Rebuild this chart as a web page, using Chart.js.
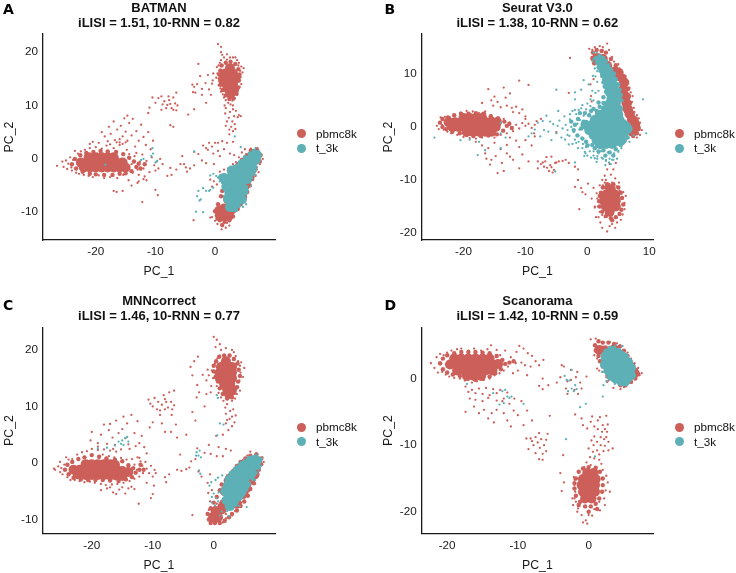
<!DOCTYPE html>
<html><head><meta charset="utf-8">
<style>
html,body{margin:0;padding:0;background:#fff;width:736px;height:573px;overflow:hidden}
#wrap{position:relative;width:736px;height:573px;font-family:"Liberation Sans",Arial,sans-serif;color:#111}
.p{position:absolute;width:368px;height:286px}
.letter{position:absolute;font:bold 14px "DejaVu Sans",sans-serif;color:#000;line-height:14px}
.lg{position:absolute;font-size:11.7px;line-height:14px;color:#111;white-space:nowrap}
.dot{position:absolute;width:9px;height:9px;border-radius:50%}
canvas{filter:blur(0.35px)}
</style>
<script src="https://cdn.jsdelivr.net/npm/chart.js@4/dist/chart.umd.min.js"></script>
</head><body><div id="wrap"></div>
<script>
const seriesNames=["pbmc8k","t_3k"];
const titleA=["BATMAN","iLISI = 1.51, 10-RNN = 0.82"],titleB=["Seurat V3.0","iLISI = 1.38, 10-RNN = 0.62"],titleC=["MNNcorrect","iLISI = 1.46, 10-RNN = 0.77"],titleD=["Scanorama","iLISI = 1.42, 10-RNN = 0.59"];
const xTicksA=[-20,-10,0],yTicksA=[-10,0,10,20];
const xTicksB=[-20,-10,0,10],yTicksB=[-20,-10,0,10];
const xTicksC=[-20,-10,0],yTicksC=[-10,0,10,20];
const xTicksD=[-20,-10,0],yTicksD=[-20,-10,0];

/* flat x,y pairs */
const pbmcA=[-26.5,-1.3,-25.6,-0.5,-25.4,-1.5,-25,-0.3,-24.8,-1.9,-24.6,-0.9,-24.3,0.3,-24.1,-1.6,-24,-2.2,-23.8,-0.2,-23.5,1.5,-23.3,-2.6,-23,1,-22.8,-2.8,-22.5,1.4,-22,-3,-21.8,1.7,-21.2,-3.2,-21,2,-20.5,-3.4,-20,2.2,-19.5,-3.1,-19,1.9,-18.6,-3.6,-18.2,2.5,-17.6,-3.4,-17,2,-16.4,-3.6,-16,2.6,-15.4,-3,-14.8,1.7,-14,-1,-13.5,0.5,-13,-2,-12.6,-0.5,-12.2,0.8,-12,-1.8,-11.5,-0.4,-11,-2.5,-10.6,0.3,-10.2,-1.2,-9.8,-0.5,-9.5,-1.8,-9.2,0,-8.8,-1,-13.8,-2.6,-13.2,1.1,-12.8,-3,-11.8,-3.3,-14.4,0.9,-19.5,3,-19,5,-18.5,4.2,-18,3.3,-17.8,6,-17.5,4.7,-17,7,-16.8,3.5,-16.4,5.5,-16,3.1,-15.8,6.2,-15.5,4.2,-15.2,7.6,-15,5.1,-14.7,8.1,-14.7,3.4,-14.4,6.7,-14,4.4,-13.8,7.5,-13.4,2.3,-13.2,5.2,-12.8,3.4,-12.4,6.4,-12,4.1,-11.6,2.6,-11.2,5,-10.8,1.8,-10.4,3.4,-16.5,3.1,-17.6,2.7,-16,3.7,-15.5,2.8,-15,3.1,-20.5,3.2,-21,2.8,-17,-6,-16.5,-6.2,-15.5,-6,-14,-5,-13,-4.5,-12.2,-8.1,-10,-5.8,-9.6,-6.8,-12,-3.8,-11.5,-4,-12.8,-4.2,-14.5,-4,-10,-2.2,-8,-3.2,-7.3,-3,-7.5,-1.7,-6.5,-2,-5.8,-1,-5.5,0.5,-4.9,-1.6,-5.2,-1,-4.7,-2.4,-4.2,-1.8,-3.5,-1.2,-10.5,11.5,-10,10.5,-9.5,11.4,-9,9.2,-8.8,10.2,-8.5,10.8,-8.2,9.5,-8,10.1,-7.7,11,-7.5,10.3,-7.3,9.5,-7,11.5,-7,9.2,-6.7,10.4,-6.5,9.1,-6.3,10,-6.5,12.4,-9,11.7,-7.8,11.7,-11,9.6,-11.2,8.6,-7,6,-7.5,6.3,-4.5,8.3,-3.5,9.3,-1.5,10.5,-2.5,15.5,-1.2,15.7,-1.6,14.2,-3,14,-3.5,13.5,-3.8,13.9,-2.2,13.1,-3.3,12.4,-3.7,12.5,-1,13,-0.7,12,-2.2,12,-2.8,17.8,0.5,21.5,1,21,1,20,1.2,19.5,2,19.6,1.5,19,2.5,19,3,19,3.4,19,1,18.5,2,18.6,3.7,18.5,4,18,0.8,18,0.3,17.2,0.6,17.5,1.2,17.6,3.9,17.5,4.4,17.3,4.8,17,0.7,16.5,4.2,16.5,4.6,16.2,-0.3,16,0.4,16,0.9,16.7,4,15.6,4.3,15.3,0.2,15.2,-0.4,14.7,0.7,14.5,0.9,15.3,4,14.6,4.4,14,-0.5,14.1,0.6,13.8,0.9,13.2,4.1,13.5,3.8,12.8,1,12.6,1.3,12.1,3.7,12,1.5,11.5,3.3,11.4,1.8,11,2.9,10.9,2.2,10.5,2.6,10.2,1.6,10,3,10,1.8,9.5,3,9.3,3.5,9,2.5,8.8,4,8.2,4.3,8,3.2,8,2.3,7.7,3.8,7.8,1.7,8.5,2,7,2.9,7,3.3,6.5,2.7,6,3.4,5.6,3,5.2,2.4,4.6,1.8,6.2,2.4,5.5,-2,2.5,-1.5,2,-1,3,-0.5,2.3,0,3,0.5,3,1.2,3.3,2,3,3,3.2,0.5,1.5,-0.3,1,-1.2,1.7,0.8,0.5,1.5,1.8,2.5,1,3.2,0.7,-2.8,0.9,-3.5,1.3,-2.2,-0.3,-1.5,-0.8,-0.2,-1,-0.8,-3.9,-0.2,-4.2,0.3,-4.8,-0.5,-5.2,0.8,-2.4,1.5,-2,2.2,-1.8,3,-1,3.5,-0.6,4,0.3,4.5,1.2,5,1.8,6,1.9,7,1.8,7.8,0.6,8,0,7.5,-1,7,-2,6.5,-2.8,6.2,-3.8,5.8,-4.6,5.5,-5.5,5,-6.6,4.6,-7.5,4,-8.8,3.5,-9.6,3,-10.5,2.5,-11,2,-12,1.2,-12.6,0.4,-12.2,0,-11.6,-0.5,-10.9,-0.8,-11,0.2,-10,0.8,-9.5,1.3,-8.8,1.7,-8,1.5,-10.4,1,-11.2,0.7,-10.8,1.6,-11.6,2.2,-10.6,1.8,-12.9,1.1,-13.2,2.4,-12.5,-3.6,-11.5,1.3,-7,1.8,-6,2.2,-5.2,2.6,-4.3,6.8,-3.2,7.3,-2.5,6,-5,5.2,-7];
const tA=[-18.4,-1.1,-10.5,2,-10.4,1,-10.7,0.5,-12,0,-12.4,-0.2,-10,-0.7,-9.7,-0.4,-3.5,1.4,3.3,4.2,4.3,2.2,6.8,2,-2.8,-6,-2.4,-7.6,-2.6,-7.8,-3,-7,-2,-5.5,-1.5,-6,-1,-6,-0.8,-5.8,-0.3,-5.4,-3.2,-9.9,-2,-10,-0.8,-3.1,-0.3,-2.8,0.5,-3.5,0.8,-4.2,1.2,-4.5,1.5,-3,0.2,-3.2,1.7,-6,1.5,-7,2,-8.2,2.4,-9.5,5.2,-8.5,4.7,-9,6,-5,6.8,-3,7,-1.5];
const pbmcEdgeA=[-24,-1,-23.5,0,-23.3,-1.8,-22.6,0.7,-22.2,-2.4,-21.6,1.1,-21,-2.8,-20.4,1.3,-20,-2.9,-19.2,1.5,-18.6,-3,-18,1.4,-17.2,-3,-16.6,1.3,-16,-2.8,-15.4,0.9,-15,-2.7,-14.4,0.2,-14,-2.3,-13.6,-0.5,-13.2,-1.5,-12.8,-0.9,-12.5,-1.8,-11.8,-1,0.9,16.5,1.1,17.5,1.8,18,2.6,18.2,3.4,17.8,3.9,16.8,4.1,15.8,4,14.7,3.9,13.4,3.6,12.2,3.1,11.3,2.4,11.2,1.8,11.9,1.3,12.9,0.9,13.9,0.8,15,1,14.5,0.7,15.8,0.5,-8.5,1,-7,1.2,-6,1.5,-5,2,-3.5,2.7,-2.5,3.2,-1.7,3.8,-1,4.5,-0.2,5.3,0.7,6,1.6,7,1.8,7.6,0.8,7.5,-0.5,6.8,-1.6,6.4,-2.6,6.2,-3.8,5.8,-5,5.4,-6.2,5,-7.2,4.3,-8.5,3.8,-9.4,3,-10.8,2.4,-11.5,1.6,-11.8,0.8,-11.5,0.3,-10.6,0,-9.8,1.2,-12.4,0.4,-11.2];
const tEdgeA=[3,-2,2.6,-3,2,-3.3,1.5,-3.6,2,-4.5,2.2,-5.5,2.2,-6.6,2.1,-8,5.4,-4,5.2,-5.3,5,-6,4.6,-7.5,4,-8.8,3.5,-9.6,6.6,-1,7.4,0.2,7.2,1.3,6.5,1.5,5.8,1,5,0.3,4.2,-0.8,3.4,-1.6,1,-3.2,0.8,-3.5,1.2,-4,6.2,-2.8,6,-3.6,2.6,-9.4];
const pbmcCoreA=[-22.5,-0.7,-21.5,-0.7,-20.5,-0.7,-19.5,-0.7,-18.5,-0.7,-17.5,-0.7,-16.5,-0.7,-15.5,-0.7,-21.2,0.3,-20,0.3,-19,0.3,-18,0.3,-17,0.3,-22,-1.6,-21,-1.6,-20,-1.6,-19,-1.6,-18,-1.6,-17,-1.6,-16,-1.6,-15,-1.6,2.5,17,1.7,16,3,16,1.4,15,2.4,15,3.4,15,1.9,14,3,14,2.3,13,3.2,13,2.6,12.2,6,-0.8,4.8,-1.8,3.6,-2.9,5.8,-3.3,2,-4.6,2.8,-5.7,5,-5,2.2,-7.6,4.4,-7.5,1.5,-9.3,2.8,-9.5,1.1,-10.7,2.2,-10.8,0.7,-9.7];
const tCoreA=[7,0.7,6.3,0.5,6.8,-0.2,5.6,-0.3,6.1,-1,4.8,-0.9,5.3,-1.7,4.3,-1.8,5,-2.7,3.6,-2.6,4.2,-3.3,2.8,-3.2,3.6,-4,4.8,-4,2.5,-4,3.2,-4.9,4.3,-5,3.8,-6,3,-6,3.3,-7,4,-7,2.8,-7.9,3.5,-8,2.5,-9,3,-9,1.8,-4.2,5.6,-2.8,5.4,-3.8,1.9,-5.2,2.4,-6.5,4.8,-6,4.5,-7.6,2.2,-7.5,6.2,-2,2.8,-2.2,4.5,-1,3.5,-2,1.5,-3.6];

const pbmcB=[-24.3,0.2,-24,-0.4,-23.7,1.8,-23.5,0.4,-23.2,-0.5,-23,1.9,-22.6,-0.9,-22.2,1.8,-22,-1.2,-21.5,2.3,-21,-1.5,-20.5,2.7,-20,-1.9,-19.5,3,-19,-2.1,-18.5,2.9,-18,-2.2,-17.5,2.6,-17,-2,-16.5,2.5,-16,-1.8,-15.5,2.2,-15,-2,-14.5,1.8,-14,-1.5,-13.5,1.5,-13,-1.2,-12.5,0.8,-12,-0.8,-11.5,0.4,-11,-0.3,-10.5,0.7,-10,0.2,-9.5,0.6,-9,-0.2,-8.5,0.4,-16,7.1,-15.5,5,-15.2,4,-15,5.7,-14.5,4.7,-14,3.7,-13.5,7.4,-13.2,5.5,-13,4,-12.5,6.3,-12.2,3.6,-12,2.8,-11.5,3.8,-11,2.6,-11,8.7,-10.5,3.3,-10,2,-9.5,7.9,-17,4.5,-16.5,2.9,-18,-2.8,-17,-3.5,-16.5,-5,-16,-4,-15.5,-6.2,-15,-3,-14.8,-5.5,-14.5,-8.7,-14,-4.2,-13.8,-6.8,-13.5,-8.3,-13,-3.4,-12.5,-5.6,-12,-6.2,-11.5,-2.6,-11,-3.8,-11,-7.8,-10.5,-5.2,-10,-2.5,-9.5,-6.5,-16.3,-6,-15.7,-7.1,-13,-5,-9,-3.5,-8.5,-1.8,-8,-6.5,-8,-7.8,-7.5,-7,-7.2,-6.7,-7,-7.5,-6.8,-6.5,-6.5,-7.7,-6.2,-8.3,-6,-7.2,-5.8,-7.6,-5.6,-8.6,-5.4,-8.1,-5.2,-6.8,-5,-6.7,-4.6,-6.5,-4,-6.4,-3.5,-6.2,-5.8,-5.6,-6.6,-5.7,-1.5,-10,-1,-11.5,-2,-11.3,-1.3,-15.5,-0.8,-12.3,-0.3,-12.7,0.1,-10.7,0.7,-13.5,1,-11.5,1.2,-15,1.5,-12.5,2,-11,1.4,-17,2,-16,2.1,-18,2.4,-19,3.2,-19.7,3.6,-18.7,4,-18.3,4.5,-19,4.8,-18,5.4,-17.5,5.7,-16.5,6,-15.5,6,-14.3,6.2,-13,5.8,-12.3,1.6,-13.5,1.7,-15,2.4,-16.6,2.8,-17,3.2,-16.5,3,-11.5,3.6,-10.8,4,-10.5,4.7,-11.2,5.2,-12,3,-10,2.4,-10,-2.8,13,0.8,14.5,0.3,14.7,1.2,15,2,15.2,2.5,15,2.5,14.4,3.2,15.7,3.5,14.5,0.9,13.8,1.2,11.8,0.7,12.7,4,13.2,4.3,12.3,5,11.8,5.2,11,5.7,10.3,5.8,9.6,6.3,9,6.6,8.2,6.8,7.4,7,6.5,7.3,5.8,7.2,4.7,7.5,3.6,7.6,2.8,8,2.2,8.3,1.6,8.5,0.8,8.8,-0.6,8.5,-1.5,8,-2,0.6,5.8,0.7,4.8,1,9,0.5,8,3.6,-7,4.6,-6.8,3.2,-8,2.8,-9.2,4.5,-9.7,4.2,-8,3.8,-9,2.8,-10.5,2.5,-11,5.1,-10.5,5,-11.5,-1.5,-8,-2,-7.5,-3,-6.8,1.2,-15.2,1.8,-17,-5,-1,-7.5,1.5,-8.2,1.1,-10,1.5,-3,6.4,-8.6,-1.2,-12.5,-2];
const tB=[-24.7,-2,-20.5,-2.5,-19,-2.4,-17.5,-2.8,-17.7,-5.3,-16.5,-4.4,-14,-4,-14,0.8,-14,-1.2,-13.2,-2,-9.5,-1.8,-9,-1.2,-8.5,-0.5,-8,0.8,-7.6,-1.8,-7.2,1.1,-7,-0.6,-6.6,2.1,-6.3,-0.9,-6,1,-5.8,-2.5,-5.5,0.5,-5,-1.2,-4.8,0.2,-4.7,3,-4.5,1.2,-4.2,-2,-4,-0.3,-3.7,2,-3.5,0.4,-3.2,-1.5,-3,-3.3,-2.8,1.4,-2.6,0,-2.4,3,-2.2,-1,-2,-2.4,-1.8,2.4,-1.6,0.6,-1.5,-4,-1.3,-0.5,-1.2,1.3,-1,3.5,-0.9,-2,-0.7,-3.2,-0.6,2.1,-0.4,-4.7,-0.3,0.9,-0.2,3.3,0,-5.4,0.2,-3.4,0.5,3.9,0.6,-5.8,1,-4.6,1.2,-5.9,1.5,-6.6,1.8,-5,2.2,-4.6,2.5,-6,3,-6.4,3.3,-4.8,3.5,-6.7,4,-6.2,4.3,-5,4.8,-6,5,-4.5,5.5,-4,5.8,-3.2,6.2,-2.5,6.8,-2.8,-2,5.2,-1,7,-0.6,8.8,-2,6.5,1.6,10.5,0.2,8,0.8,6.8,0.9,9.6,-5,7,1,14,1.5,14,0.8,12.4,1,12.8,1.2,11,1.3,9.5,1.6,8.5,1,3.2,12,4.2,11,4.7,9,5.2,9.5,-1.2,7.5,-1.6,4.5,0.3,5,-4.7,-0.3,-5,-0.5,-5.5,1.6,-5.5,-2,-6.7,-5.2,-8.4,4.5,-3.9,3.8,-7,2.9,-7.2,1.9,4.5,5.6,3.3,5.6,1.2,-3.6,-2.4,-3.2,-0.6,-2.9,-1.7,-2.4,-3.2,-1.8,-3,-1.4,-2.8,-0.8,-4,-0.2,-3.8,0.4,-4.6,1,-5.4,1.6,-6,2.3,-5.8,3,-6.2,3.6,-6,4.2,-6.2,-2.8,2.4,-2,3.2,-1.4,3.2,-0.8,4.1,0,4.4,0.5,5.2,1,5,1.3,6.4,1.8,6.8];
const pbmcEdgeB=[-23.8,0.8,-23.4,1.5,-23.4,0,-22.8,-0.4,-22.5,1.8,-21.8,-0.9,-21.5,2.2,-20.6,-1.2,-20.4,2.5,-19.5,-1.5,-19.2,2.5,-18.4,-1.7,-18,2.6,-17.2,-1.7,-16.8,2.5,-16,-1.6,-15.6,2,-14.6,-1.4,-14.4,1.6,-13.6,-0.7,-13.4,1,-13,0.2,-12.6,0.6,-12.2,-0.2,2.2,-12.4,2.5,-11.4,3.2,-10.8,4.2,-10.8,5,-11.4,5.4,-12.4,5.6,-13.4,5.8,-14.6,5.5,-15.6,5.2,-16.4,4.6,-17,3.8,-17.2,3,-16.8,2.4,-16,2,-15,1.9,-14,2,-13,4,-17.6,3,-11.4,0.9,14,1.5,14.5,2.3,14.3,3,14,3.8,12.8,4.6,11.6,5.4,10.6,6,9.5,6.4,8.5,6.6,7.2,6.7,5.8,6.9,4.5,7,3.4,7.3,2.4,7.8,1.6,8.2,0.6,8.3,-0.4,8,-1.2,7.4,-1.7,6.9,-0.5,0.8,13,1.1,12];
const tEdgeB=[-2.6,1,-2.2,-0.6,-2,0.4,-1.6,-1.6,-1.5,1.5,-1.2,2.6,-1,-0.3,-0.8,-2.2,-0.6,1,-0.4,2.6,-0.2,-2.8,0,-3.5,0.3,2.2,0.6,3,0.8,-3.4,1.2,-4,1.6,-3,1.8,-4.6,2.2,-3.8,2.6,-4.4,2.9,-5.4,3.2,-3.5,3.6,-4.8,4,-3.6,4.2,-5.4,4.6,-4.2,5,-3.2,5.4,-3.4,6,-2.6,6.5,-2,1.5,3,1,3.4,2,3.8,2.6,4.5,1.8,4.6,2.6,5.6,3,6.6,2.8,7.6,2.6,8.4,2.4,9.6,2.1,10.6,1.8,11.2,1.6,12,1.4,13,2,13.4,2.6,13,5.4,3.6,5.5,5,5.4,6,5.2,7,5,8,4.6,9,4.3,10,3.8,10.6,3.4,11.6,3,12.4];
const pbmcCoreB=[-22.4,0.9,-21.4,0.9,-20.4,0.9,-19.4,0.9,-18.4,0.9,-17.4,0.9,-16.4,0.9,-21.8,0,-20.8,0,-19.8,0,-18.8,0,-17.8,0,-16.8,0,-15.8,0,-14.8,0,-19.5,-0.9,-18.5,-0.9,-17.5,-0.9,-16.5,-0.9,-15.5,-0.9,-20,1.7,-19,1.7,-18,1.7,-17,1.7,-15.5,1,-14.6,0.9,3.8,-11.8,3,-12.8,4.5,-12.8,2.7,-13.9,3.7,-13.7,4.6,-13.9,3,-15,3.9,-15,4.6,-15,3.6,-16,1.6,13,2.5,12.8,3.2,11.5,4.5,10.5,5.2,9.5,5.9,8.3,5.8,7,6.2,5.7,6.3,4.5,6.5,3.4,6.8,2.5,7.2,1.4,7.6,0.8,7.8,-0.1,7.3,-0.9];
const tCoreB=[1.5,-2.5,2.5,-2.5,3.5,-2.5,4.5,-2.5,5.5,-2.5,2,-3.2,3,-3.2,4,-3.2,1,-1.5,2,-1.5,3,-1.5,4,-1.5,5,-1.5,6,-1,0.3,-0.6,1.3,-0.6,2.3,-0.6,3.3,-0.6,4.3,-0.6,5.3,-0.3,6.3,0,-0.3,0.4,0.8,0.4,1.8,0.4,2.8,0.4,3.8,0.4,4.8,0.4,5.8,0.5,6.5,-0.4,1.2,1.3,2.2,1.3,3.2,1.3,4.2,1.3,5.2,1.3,2,2.3,3,2.3,4,2.3,5,2.3,3,3.3,4,3.3,4.9,3.3,3.6,4.4,4.6,4.4,3.9,5.4,4.7,5.5,3.6,6.6,4.6,6.6,3.4,7.7,4.3,7.8,3.2,9,3.9,9,2.8,10.2,3.4,10.5,2.4,11.4,2,12.4,2.7,-2.6,3.6,-2.5,1.8,-2.4];

const pbmcC=[-26.2,-1,-26,-1.2,-25.5,-0.6,-25.2,0.2,-25.2,-1.6,-25,-0.9,-24.8,-2,-24.5,-0.3,-24.2,1,-24,-2.5,-23.8,0.6,-23.5,-3,-23.2,0.7,-22.8,-3,-22.4,1.5,-22,-3.2,-21.6,1.9,-21.2,-3.4,-20.8,2.1,-20.3,-3.3,-20,2.5,-19.5,-3.5,-19,2.3,-18.5,-3.7,-18.2,1.5,-17.7,-3.9,-17.2,1.2,-16.7,-3.8,-16.3,1,-15.8,-3.7,-15.2,0.9,-14.8,-3.5,-14.3,0.6,-13.8,-3.2,-13.4,0.7,-13,-2.8,-12.5,1,-12.2,-2.4,-12,0.3,-11.6,-1.8,-11.2,0.2,-11,-1,-10.6,-1.8,-10.3,-0.5,-10,-2.4,-9.7,-1.2,-9.5,-1.8,-13,-0.3,-12.6,-1.2,-14,-2,-11.7,-0.5,-12.2,0.9,-19,3.5,-18.5,5,-18,6.8,-17.5,3.4,-17.2,5.8,-17,6.9,-16.6,4.5,-16.2,3.2,-16,7.5,-15.6,5.3,-15.2,2.4,-15,6,-14.8,8.2,-14.5,4.4,-14.2,7,-13.8,2.5,-13.5,8.5,-13,5.3,-12.5,7.4,-12.2,3.5,-11.8,4.8,-11.4,2.8,-11,1.7,-19,2.9,-18,2.4,-17,2.2,-16.5,2.5,-16,2,-14,3.3,-12.8,3,-20.2,4,-20,5.5,-18.5,-4.8,-17.5,-4.5,-17,-4.3,-16.5,-5.2,-16,-5.5,-15.5,-4.7,-15,-4.3,-14.5,-5.4,-14,-4.5,-13.5,-4.2,-13,-4.6,-12.3,-7.2,-11,-3.5,-10.3,-6.2,-10,-5.5,-9.8,-4,-8,-2.5,-7.3,-2,-7.8,-3.4,-10.7,11.2,-10.4,10.5,-10,10,-9.7,11.5,-9.3,9.5,-9.1,10.8,-8.8,9.3,-8.5,10.3,-8.2,12,-8,9.5,-7.8,10.8,-7.5,9.8,-7.3,12.5,-7,10.8,-6.8,9.5,-6.5,10.2,-6.5,12.8,-8,11.3,-8.8,8.5,-6.9,8.5,-10,7.2,-10.5,6.3,-8.5,7,-8,5.5,-7,5.5,-6.2,6.8,-6,4.5,-5.5,1.5,-6,-1.2,-5.3,-1.4,-4.5,-1.1,-4,-0.8,-3.7,0.3,-3.5,-9.2,-4.5,5,-3.5,9,-3,7.5,-1.5,10,-2.8,11.6,-2.6,18.8,-3.2,18,-3.8,17,-3.5,15.5,-2.7,13.8,-1.8,15.6,-1.2,14.6,-0.8,15.5,-0.5,12.5,-1.2,12.2,-2.4,12.5,-1,16.5,0,22.3,0.5,21.8,1,21,0.3,20.5,1.2,20,2,20.3,3,20,3.3,19.6,1,19,1.6,18.8,3.6,18.9,0.6,18.5,4,18,4.5,17.8,0.2,17.6,0.5,17,4.3,17.2,5,16.8,-0.3,16.4,0.3,15.8,4.4,16,4.8,15.2,-0.1,15,0.4,14.7,4.2,14.6,-0.4,13.6,0.5,13.6,4,13.5,4.3,12.8,0.8,12.4,3.8,12.2,1.2,11.6,3.5,11.4,1.6,11,3,11,2.2,10.4,1.9,9.8,3.2,9.5,2.7,9.2,2,8.7,3,8.2,3.6,8.4,2.2,7.6,2.6,7.8,3.4,7.2,2,7,3,6.5,2.4,5.8,1.5,5,0.4,4.8,-0.8,3.2,0.8,2.8,2,2.5,2.8,2.2,-1.5,1.8,-0.5,1.6,0.5,1.2,1.5,1.2,-2.7,2.6,-3,0.7,-2.5,-1.5,-2,-2.4,-0.6,-2,-1,-3.5,-0.3,-4.8,-0.9,-5.3,-0.6,-6.8,-0.8,-8.3,-0.5,-9,0.2,-9.5,-0.3,-10.2,0.5,-10.4,1,-10.8,1.5,-10.5,2,-9.8,0.8,-8,0.5,-7.2,1.8,-3.2,2.2,-2.2,3,-1.5,3.6,-1,4,-0.3,4.8,0.5,5.5,1.3,6,2,7,1.7,8,1,8.2,0.2,7.5,-1,7,-2.5,6.5,-3.2,6,-4,5.5,-5.5,5,-6.2,4.5,-7,4,-7.8,3.5,-8.5,3,-9.3,2.5,-9.7,1.8,-10.3,2,-9,1.3,-8.7];
const tC=[-17.5,2.7,-16.2,3.1,-15.6,3.8,-15.2,3.4,-15,4,-14.8,3.2,-14.5,4.4,-14.2,4.6,-14,3.8,-19,2.6,-2.8,1.9,-2.5,1.3,-2.3,2.2,-2.1,1,-2.9,1.3,-2.4,-1.3,-2.2,-1.9,0.5,12,0.7,11.5,1,7,1.6,6.8,0.6,4.9,-0.7,-4,-0.4,-3.4,-0.3,-6,-0.3,-7,0,-5.4,0.2,-7.5,0.4,-6.2,0.7,-6.8,0.8,-5.2,0.3,-3,0.7,-2.6,1.4,-2.2,2,-2.5,1.3,-8.6,1,-9.3,2.2,-8.5,5.4,-7.8,4.2,-7.6,7.2,1.5,7.9,0.8,7.8,-0.5,6.8,-3,6,-2.6,6.5,-2,7.3,-1.5,2.5,-9.4];
const pbmcEdgeC=[-24.4,-1.2,-24,-0.3,-23.8,-2,-23.2,0.2,-23,-2.6,-22.2,0.7,-21.8,-2.9,-21.2,1,-20.6,-3,-20,1.4,-19.4,-3,-18.8,1.1,-18.2,-3,-17.6,0.8,-17,-3.1,-16.2,0.6,-15.6,-3.2,-15,0.3,-14.4,-2.9,-14,-0.4,-13.4,-2.5,-13.2,-0.9,-12.8,-1.7,-12.2,-1.2,-12,-0.3,-11.5,-1.2,0.4,18,0.9,18.8,1.7,19,2.6,19,3.3,18.4,3.9,17.6,4.1,16.5,4.3,15.4,4,14.4,3.8,13.4,3.4,12.4,3,11.6,2.2,11.4,1.5,12.2,1,13.2,0.7,14.4,0.3,15.2,0,16.2,0,17.2,-0.8,-10,-1,-9,-0.5,-8,0,-7,0.5,-6,1,-4.8,1,-7.5,1.3,-3.8,2,-3,2.6,-2.2,3.2,-1.4,3.8,-0.5,4.4,0.2,5.2,0.8,6,1.3,7,1.5,7.8,0.8,7.8,-0.2,7.4,-1.2,7,-2.4,6.6,-3.6,6,-4.6,5.6,-5.8,5,-6.8,4.4,-7.6,3.8,-8.4,3,-9,2.5,-9.6,1.8,-10.2,1,-10.6,0.2,-10.6,-0.5,-10.6];
const tEdgeC=[2.5,-3,2.8,-2.6,3.4,-1.6,4.2,-0.7,5,0.1,5.8,0.9,6.8,1.1,7.6,0.4,7.4,-0.8,6.8,-1.8,6.4,-2.8,5.8,-3.6,5.4,-4.6,4.8,-5.6,4.2,-6.4,3.6,-7.4,3,-8,2.2,-7.4,2,-6.4,1.9,-5.4,1.9,-4.4,2,-3.6];
const pbmcCoreC=[-23,-1.2,-22,-1.2,-21,-1.2,-20,-1.2,-19,-1.2,-18,-1.2,-17,-1.2,-16,-1.2,-15,-1.4,-14,-1.6,-21,-0.2,-20,-0.2,-19,-0.2,-18,-0.2,-17,-0.2,-16.2,-0.3,-22.3,-2,-21,-2.1,-20,-2.1,-19,-2.1,-18,-2.1,-17,-2.2,-16,-2.2,-15,-2.3,2,18,1.2,17,2.3,17,3,17,1,16,2,16,3,16,1.2,15,2.1,15,3,15,1.7,14,2.7,14,2.2,13,3,13,2.5,12.2,-0.1,-9.6,0.7,-9.6,1.3,-8.2,0.3,-8.5,1.7,-7.2,6.7,-2,6,-3,5.3,-4.5,4.7,-5.5,1.8,-5,3.8,-7.2];
const tCoreC=[7.1,0.4,6.4,0.5,6.8,-0.4,5.6,0,6,-0.9,4.7,-0.5,5.2,-1.4,3.9,-1.3,4.5,-2,5.5,-2.2,3.2,-2.1,3.9,-2.9,5,-3,2.6,-3,3.2,-3.8,4.4,-3.8,2.3,-4,3,-4.8,4,-4.8,2.5,-5.6,3.4,-5.8,2.5,-6.6,3.3,-6.8,2.6,-7.6,5.2,-3.8,1.9,-5,4.6,-5,2.1,-6.6,6.2,-1.8,4.1,-5.8];

const pbmcD=[-22.3,2.3,-21.8,1.6,-21.5,3.2,-21.3,0.9,-21,2.1,-21,3.7,-20.7,1,-20.5,3.5,-20.2,0.6,-20,3.9,-19.7,0.3,-19.4,4.2,-19,0.1,-18.6,4.4,-18.2,0,-18,4.5,-17.5,-0.3,-17,4.2,-16.5,-0.6,-16.2,4.5,-15.8,-0.4,-15.2,4.2,-14.8,-0.2,-14.3,4.4,-14,0,-13.8,5,-13.3,0.5,-13,4.3,-12.6,0.8,-12.5,3.5,-12,1.2,-11.8,4.2,-11.4,1.8,-11,3.2,-10.7,0.8,-10.3,2.3,-10.2,4,-10,1.2,-9.8,4.9,-9.5,2.4,-9.2,4.5,-9,2,-8.6,3.8,-8.2,1.8,-8.7,0.5,-8,3.4,-7.5,2.6,-7,2,-6.4,2.8,-17.4,-1.2,-17,-2,-16.5,-1.7,-16,-2.2,-15.5,-1.5,-15,-2.3,-14.5,-1.4,-14,-2.5,-13.5,-1.6,-13,-2.2,-12.5,-1.7,-12,-3,-11.5,-2.1,-16.8,-3,-16,-3.2,-15,-3.4,-14.2,-2.9,-13,-3.3,-12.2,-3.4,-11.2,-3.8,-10.5,-3,-9.5,-3.4,-17.4,-5,-16.2,-4.2,-15.5,-5.2,-14.8,-4.7,-14.2,-6,-13.7,-5.2,-13.4,-6.6,-13,-4.7,-12,-5.2,-11.5,-6.3,-11,-7.2,-10.6,-4.8,-10,-5.5,-9.2,-7,-8.7,-4.8,-8,-6.3,-8.2,-9,-8,-9.4,-7.8,-10,-7.5,-8.8,-7.2,-9.6,-7,-8.2,-6.9,-10.4,-6.7,-9.1,-6.5,-11.3,-6.3,-10,-6,-9.2,-6,-10.9,-6.5,-12.2,-7,-12.1,-7.5,-11.2,-5.8,-8.3,-8.5,-10.6,-8.8,-9,-5.5,-5.6,-5.7,-1,-6.5,0,-7,-1.1,-6.5,-1.6,-4.5,-0.6,-4,0.2,-3.8,2,-3.5,1.8,-3,-0.4,-3.2,-1.5,-3,-2.3,-2.5,1.3,-2.5,-0.2,-2,-1.7,-1.8,0.2,-1.6,1,-1.2,-0.6,-1,-1.5,-1.5,-2.3,-0.3,0.3,-4,-14.2,-3.5,-15.6,-3.8,-16.9,-3.6,-11.5,-1.9,-5.4,-1,-6,-0.8,-7,-0.2,-7.5,0.3,-6.5,0.8,-7.2,0.5,-5.7,1.3,-6.3,1.6,-5.8,2.5,-5.6,2,-7,2.7,-6.9,1.3,-7.6,1.9,-8,2.3,-7.6,2.6,-8,1.7,-8.8,2.2,-9.1,2.5,-8.8,2.8,-9.5,3.4,-10.5,2.8,-10.8,0.8,-8.7,0.4,-9.3,0.7,-10,1.2,-9.5,1.7,-10,2.3,-10.1,2.1,-10.9,1.2,-10.8,1.5,-11.4,0.6,-11,0,-10.5,0.2,-11.8,0.8,-12,1.5,-12.2,-0.3,-12.6,1.8,-12.8,0.3,-13,-0.6,-13.3,2,-13.7,2.5,-14.6,2.7,-15.6,3,-17,2.4,-16.8,2.2,-18,1.5,-18.5,2.3,-19,1.6,-19.8,0.8,-19.6,0.5,-20.6,0,-20.5,-0.4,-21.3,-0.8,-21.6,-0.2,-21.8,-1,-20.5,-1.5,-19.5,-1.8,-18.5,-2.3,-18,-2,-15.2,-2.1,-14.8,-2,-16,-1.9,-17,-2,-18,-2.2,-19,-1.6,-20,0.3,5.9,1,6,1.4,5.5,2,5.4,2.5,4.8,3,5.5,3.6,5,4,5.3,4.4,5,2.6,-0.5,3.5,-1.4,4.5,-1.6,5,-1.3,6,-0.4,6.5,0.1,7.2,0.5,7.5,0.8,7,1.6,6.5,2.3,6,3,5.5,3.9,5,4.2,4.5,5,1.2,1.5,1.5,1.2,2,1,2.5,0.5,3.2,0,2.8,-0.3,1.8,3.8,2.5,0.2,1,4.5,1.2,3,1.6,2.7,2,2.2,0.8,3.5];
const tD=[-17.2,-0.8,-13.5,-2.2,-12.2,-1.9,-11.8,-1.7,-11.5,-2.7,-11.2,-2.9,-10.9,-2.7,-12.6,-3.9,-12,-3.7,-9.2,-3.8,-3.4,0.4,-3.1,-0.2,-2.7,-0.3,-2.4,1.3,-1.9,-1,-2.4,-1.5,-2.9,-1.9,-2.1,-1.9,-1.7,-1.6,-1.2,-4.3,-0.4,-3.8,-3.2,-9.1,0.9,-11.7,2,-2.7,2.1,-1,2.5,-0.4,1.9,1,2.8,0.2,3.7,-0.8,4.9,-1,5.6,-0.6,4.8,4.9,3.9,5,6.3,0.5,6.4,1.6];
const pbmcEdgeD=[-21,2.3,-20.6,1.4,-20.6,3,-20,0.9,-20,3.5,-19.2,0.6,-19,3.8,-18.2,0.4,-18,4,-17,0,-17,4,-16,-0.2,-16,4,-15,0,-15,3.9,-14,0.3,-14,3.8,-13.2,0.8,-13,3.4,-12.4,1.4,-12.2,2.8,-11.8,2.2,-11.2,2.4,-10.6,2.6,0.9,5,1.4,5.6,2,5.4,2.8,5.4,3.6,5.2,4.4,4.8,5,4.2,5.5,3.4,5.9,2.6,6.3,2,6.7,1.3,7,0.7,6.6,0,6,-0.5,5.2,-1,4.5,-1,3.8,-0.4,3.2,0.2,2.6,1,2,1.8,1.6,2.6,1.4,3.4,1,4.2,1.6,4.6,2.4,4.6,-1.8,-15,-1.4,-14,-0.8,-13.5,0,-13.3,1,-13.4,1.6,-14,2,-15,2,-16,1.9,-17,1.5,-18,1,-18.8,0.3,-19.2,-0.5,-19.2,-1.2,-18.5,-1.8,-17.6,-2,-16.5,-2,-15.7,-1.4,-19,0,-20,1.2,-19.6];
const tEdgeD=[2.2,3.6,2.4,4.2,3,4.6,3.6,4.6,4.2,4.3,4.8,3.8,5.4,3,5.8,2.2,6.2,1.5,6.2,0.6,5.8,-0.2,5,-0.8,4.4,-0.7,3.8,-0.1,3.2,0.6,2.8,1.4,2.4,2.2,2,3];
const pbmcCoreD=[-19.6,2.1,-18.6,2.1,-17.6,2.1,-16.6,2.1,-15.6,2.1,-14.6,2.1,-13.6,2.1,-12.8,2.2,-19,3,-18,3,-17,3,-16,3,-15,3,-14,3,-18.6,1.2,-17.6,1.2,-16.6,1.2,-15.6,1.2,-14.6,1.2,-13.6,1.2,-17.2,0.4,-16.2,0.4,-15.2,0.4,-0.2,-14.2,0.7,-14.2,-0.8,-15.1,0.1,-15.1,1,-15.1,-1,-16,-0.1,-16,0.9,-16,-0.8,-17,0.1,-17,0.9,-17,-0.5,-18,0.4,-18,1.5,4.3,2.2,4.2,2.7,3.8,3.6,4.4,5.8,1.8,6.5,0.8];
const tCoreD=[3.1,3.7,3.9,3.7,4.5,3.3,2.6,3,3.4,3,4.2,3,5,2.6,2.8,2.3,3.6,2.3,4.4,2.3,5.2,1.9,3.2,1.6,4,1.6,4.8,1.6,5.6,1.2,3.6,0.9,4.4,0.9,5.2,0.9,4.2,0.2,5,0.2,5.6,0.4,4.6,-0.4,5.2,-0.4,2.3,2.1,2.8,1.2,3.2,0.4,3.8,0,6,1.6,5.6,2.4,5,3.2,4.2,3.8,3.2,4.1,6,0.5,2.4,3.4];

const toPts=a=>{const o=[];for(let i=0;i<a.length;i+=2)o.push({x:a[i],y:a[i+1]});return o;};
const RED='#CC5F59',TEAL='#5DB0B6',INK='#1a1a1a';
const wrap=document.getElementById('wrap');

function panel(c){
  const el=document.createElement('div');el.className='p';el.style.left=c.ox+'px';el.style.top=c.oy+'px';
  const cv=document.createElement('canvas');cv.width=368;cv.height=286;cv.style.cssText='display:block;width:368px;height:286px';
  el.appendChild(cv);wrap.appendChild(el);
  const L=document.createElement('div');L.className='letter';L.textContent=c.letter;L.style.left=c.lx+'px';L.style.top=c.ly+'px';wrap.appendChild(L);
  seriesNames.forEach((n,i)=>{
    const d=document.createElement('div');d.className='dot';d.style.left=(c.legX-4.5)+'px';d.style.top=(c.legY+i*14.6-4.5)+'px';d.style.background=i?TEAL:RED;wrap.appendChild(d);
    const t=document.createElement('div');t.className='lg';t.textContent=n;t.style.left=(c.legX+14.3)+'px';t.style.top=(c.legY+i*14.6-7)+'px';wrap.appendChild(t);
  });
  const ds=(label,pts,col,r,order)=>({label,data:toPts(pts),backgroundColor:col,borderWidth:0,pointRadius:r,pointBorderWidth:0,pointHoverRadius:r,order});
  const axis=(ticks,min,max,title,fit,pad)=>({type:'linear',min,max,grid:{display:false,drawTicks:true,tickLength:3,tickColor:INK},
    border:{display:true,color:INK,width:1.3},
    ticks:{color:INK,font:{family:'Liberation Sans',size:11.7},padding:2,maxRotation:0,autoSkip:false},
    afterBuildTicks:s=>{s.ticks=ticks.map(v=>({value:v}));},afterFit:fit,
    title:{display:true,text:title,color:INK,font:{family:'Liberation Sans',size:12.3},padding:pad}});
  new Chart(cv,{type:'scatter',data:{datasets:[
    ds(seriesNames[0],c.pbmc,RED,1.15,4),ds(seriesNames[1],c.t,TEAL,1.15,1),
    ds(seriesNames[0]+' edge',c.pbmcEdge,RED,2.2,5),ds(seriesNames[1]+' edge',c.tEdge,TEAL,2.2,2),
    ds(seriesNames[0]+' dense',c.pbmcCore,RED,c.r,6),ds(seriesNames[1]+' dense',c.tCore,TEAL,c.r,3)]},
    options:{responsive:false,animation:false,events:[],
      layout:{padding:{left:c.padL,right:368-c.R,top:0,bottom:c.pb}},
      plugins:{legend:{display:false},tooltip:{enabled:false},
        title:{display:true,fullSize:false,text:c.title,color:'#111',font:{family:'Liberation Sans',size:13,weight:'bold',lineHeight:1.2},padding:{top:c.tp,bottom:c.T-c.tp-31.2}}},
      scales:{
        x:axis(c.xt,c.xr[0],c.xr[1],'PC_1',s=>{s.height=38.3;},{top:4,bottom:-1}),
        y:axis(c.yt,c.yr[0],c.yr[1],'PC_2',s=>{s.width=c.Lft-c.padL;},{top:2,bottom:0})
      }}});
}
panel({ox:0,oy:0,letter:'A',lx:3,ly:2,legX:301.7,legY:133.7,padL:0,Lft:43,R:275,T:34,B:240,pb:7.7,tp:0.5,title:titleA,xt:xTicksA,yt:yTicksA,xr:[-28.85,10.05],yr:[-15.2,23.4],pbmc:pbmcA,t:tA,pbmcEdge:pbmcEdgeA,tEdge:tEdgeA,pbmcCore:pbmcCoreA,tCore:tCoreA,r:5});
panel({ox:368,oy:0,letter:'B',lx:384.5,ly:2,legX:679.7,legY:133.7,padL:11.7,Lft:53.7,R:285,T:34,B:240,pb:7.7,tp:0.5,title:titleB,xt:xTicksB,yt:yTicksB,xr:[-26.75,10.6],yr:[-21.3,17.5],pbmc:pbmcB,t:tB,pbmcEdge:pbmcEdgeB,tEdge:tEdgeB,pbmcCore:pbmcCoreB,tCore:tCoreB,r:5});
panel({ox:0,oy:286,letter:'C',lx:3,ly:298,legX:301.7,legY:427.3,padL:0,Lft:43,R:275,T:41.3,B:247.7,pb:0,tp:7.5,title:titleC,xt:xTicksC,yt:yTicksC,xr:[-28,10.05],yr:[-12.5,24],pbmc:pbmcC,t:tC,pbmcEdge:pbmcEdgeC,tEdge:tEdgeC,pbmcCore:pbmcCoreC,tCore:tCoreC,r:5});
panel({ox:368,oy:286,letter:'D',lx:384.5,ly:298,legX:679.7,legY:427.3,padL:11.7,Lft:53.7,R:285,T:41.3,B:247.7,pb:0,tp:7.5,title:titleD,xt:xTicksD,yt:yTicksD,xr:[-23.6,9.1],yr:[-23.3,7.7],pbmc:pbmcD,t:tD,pbmcEdge:pbmcEdgeD,tEdge:tEdgeD,pbmcCore:pbmcCoreD,tCore:tCoreD,r:5});
</script></body></html>
